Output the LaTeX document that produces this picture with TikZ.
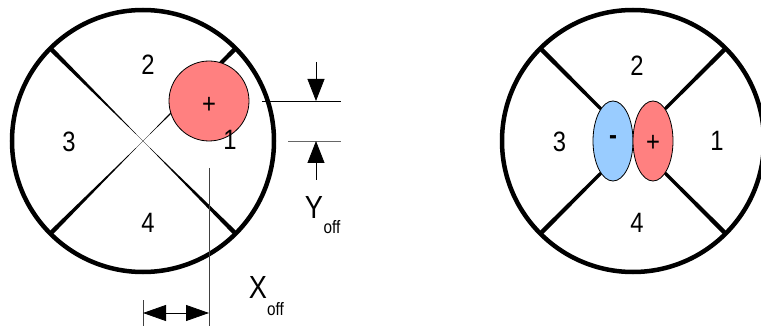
\documentclass[tikz,border=0pt]{standalone}
\usepackage{fontspec}
\setmainfont{Liberation Sans}[FakeStretch=0.85]
\usetikzlibrary{arrows.meta,positioning,shapes.geometric}
\definecolor{poscol}{HTML}{FF8080}
\definecolor{negcol}{HTML}{99CCFF}
\tikzset{
  quad/.style={font=\fontsize{28}{30}\selectfont,inner sep=0pt},
  detector/.style={circle,draw,line width=4.5pt,minimum size=262pt,inner sep=0pt},
  dimline/.style={line width=0.8pt},
  bigtip/.style={-{Triangle[length=22pt,width=17pt]},line width=0.8pt}
}
\begin{document}
\begin{tikzpicture}[x=1pt,y=-1pt]
\useasboundingbox (0,0) rectangle (761,326);
% left detector, spot off centre
\node[detector] (detL) at (143,141) {};
\foreach \a in {45,135,225,315} \fill[shift={(detL.center)},rotate=\a] (0,0) -- (131,2.3) -- (131,-2.3) -- cycle;
\node[circle,draw,line width=0.8pt,fill=poscol,minimum size=80pt] (spot) at (209,101) {};
\node[quad] (spotsign) at (209,105) {+};
\node[quad] (qL1) at (230,140) {1};
\node[quad] (qL2) at (148,65) {2};
\node[quad] (qL3) at (69,141.5) {3};
\node[quad] (qL4) at (148,223) {4};
% Y offset
\coordinate (yA) at (262,101); \coordinate (yAend) at (341,101);
\coordinate (yB) at (288,141); \coordinate (yBend) at (341,141);
\draw[dimline] (yA) -- (yAend);
\draw[dimline,black!60] (yB) -- (yBend);
\coordinate (yin) at (316,62); \coordinate (yintip) at (316,101);
\coordinate (yout) at (316,180); \coordinate (youttip) at (316,141);
\draw[bigtip] (yin) -- (yintip);
\draw[bigtip] (yout) -- (youttip);
\node[quad,font=\fontsize{32}{34}\selectfont] (ylab) at (314,207) {Y};
\node[quad,font=\fontsize{18}{20}\selectfont] (ysub) at (332,227) {off};
% X offset
\coordinate (xA) at (209,168); \coordinate (xAend) at (209,326);
\coordinate (xB) at (143,300); \coordinate (xBend) at (143,326);
\draw[dimline,black!75] (xA) -- (xAend);
\draw[dimline,black!75] (xB) -- (xBend);
\coordinate (xl) at (143,313); \coordinate (xr) at (209,313);
\draw[{Triangle[length=23pt,width=16pt]}-{Triangle[length=23pt,width=16pt]},line width=0.8pt] (xl) -- (xr);
\node[quad,font=\fontsize{32}{34}\selectfont] (xlab) at (258,287.5) {X};
\node[quad,font=\fontsize{18}{20}\selectfont] (xsub) at (275.5,309) {off};
% right detector, dipole at centre
\node[detector] (detR) at (633,141) {};
\foreach \a in {45,135,225,315} \fill[shift={(detR.center)},rotate=\a] (0,1.2) -- (131,2.3) -- (131,-2.3) -- (0,-1.2) -- cycle;
\node[ellipse,draw,line width=0.8pt,fill=negcol,minimum width=40pt,minimum height=80pt] (neg) at (613,141) {};
\node[ellipse,draw,line width=0.8pt,fill=poscol,minimum width=40pt,minimum height=80pt] (pos) at (653,141) {};
\node[quad] (negsign) at (613,140) {\textbf{-}};
\node[quad] (possign) at (653,143) {+};
\node[quad] (qR1) at (717,141) {1};
\node[quad] (qR2) at (637,66) {2};
\node[quad] (qR3) at (559.5,141.5) {3};
\node[quad] (qR4) at (637,223) {4};
\end{tikzpicture}
\end{document}
